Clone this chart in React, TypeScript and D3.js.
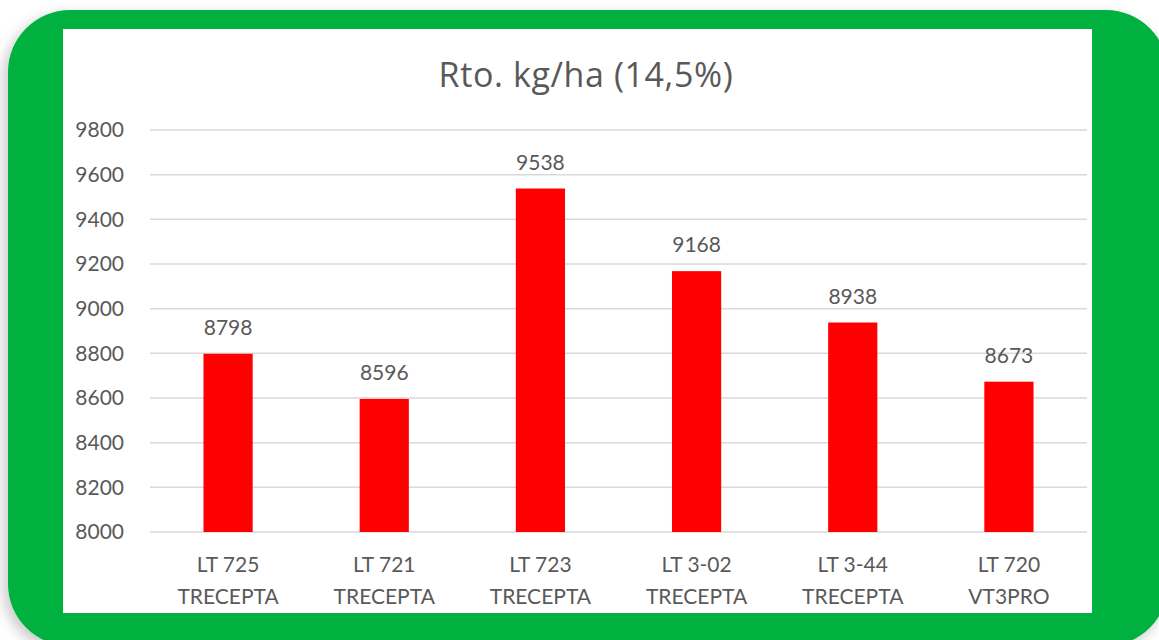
import React from "react";
import * as d3 from "d3";

const categories = [
  ["LT 725", "TRECEPTA"],
  ["LT 721", "TRECEPTA"],
  ["LT 723", "TRECEPTA"],
  ["LT 3-02", "TRECEPTA"],
  ["LT 3-44", "TRECEPTA"],
  ["LT 720", "VT3PRO"],
];
const values = [8798, 8596, 9538, 9168, 8938, 8673];
const yTicks = [8000, 8200, 8400, 8600, 8800, 9000, 9200, 9400, 9600, 9800];
const title = "Rto. kg/ha (14,5%)";

const W = 1159;
const H = 640;
const plotLeft = 150;
const plotRight = 1087;
const plotTop = 130;
const plotBottom = 532;
const FONT = "Lato, 'Open Sans', sans-serif";
const TEXT = "#595959";

export default function App() {
  const x = d3
    .scaleBand<number>()
    .domain(d3.range(categories.length))
    .range([plotLeft, plotRight])
    .paddingInner(0.685)
    .paddingOuter(0.3425);
  const y = d3.scaleLinear().domain([8000, 9800]).range([plotBottom, plotTop]);

  return (
    <div style={{ position: "absolute", left: 0, top: 0, width: W, height: H, overflow: "hidden", background: "#ffffff" }}>
      <svg width={W} height={H} style={{ display: "block" }}>
        <defs>
          <filter id="sh" x="-10%" y="-10%" width="120%" height="120%">
            <feDropShadow dx="-4" dy="5" stdDeviation="7" floodColor="#000" floodOpacity="0.22" />
          </filter>
        </defs>
        <rect x={8} y={10} width={1160} height={636} rx={62} ry={62} fill="#00B140" filter="url(#sh)" />
        <rect x={63} y={29} width={1029} height={584} fill="#ffffff" />
        <text x={586} y={87} textAnchor="middle" fontFamily="'Open Sans', sans-serif" fontSize={34} letterSpacing={0.6} fill={TEXT}>
          {title}
        </text>
        {yTicks.map((t) => (
          <g key={t}>
            <line x1={plotLeft} x2={plotRight} y1={y(t)} y2={y(t)} stroke="#d9d9d9" strokeWidth={1.5} />
            <text x={124} y={y(t)} dy="0.35em" textAnchor="end" fontFamily={FONT} fontSize={21} fill={TEXT}>
              {t}
            </text>
          </g>
        ))}
        {values.map((v, i) => (
          <g key={i}>
            <rect x={x(i)} y={y(v)} width={x.bandwidth()} height={plotBottom - y(v)} fill="#ff0000" />
            <text
              x={(x(i) as number) + x.bandwidth() / 2}
              y={y(v) - 19}
              textAnchor="middle"
              fontFamily={FONT}
              fontSize={21}
              fill={TEXT}
            >
              {v}
            </text>
            {categories[i].map((line, j) => (
              <text
                key={j}
                x={(x(i) as number) + x.bandwidth() / 2}
                y={572 + j * 32}
                textAnchor="middle"
                fontFamily={FONT}
                fontSize={21}
                fill={TEXT}
              >
                {line}
              </text>
            ))}
          </g>
        ))}
      </svg>
    </div>
  );
}
